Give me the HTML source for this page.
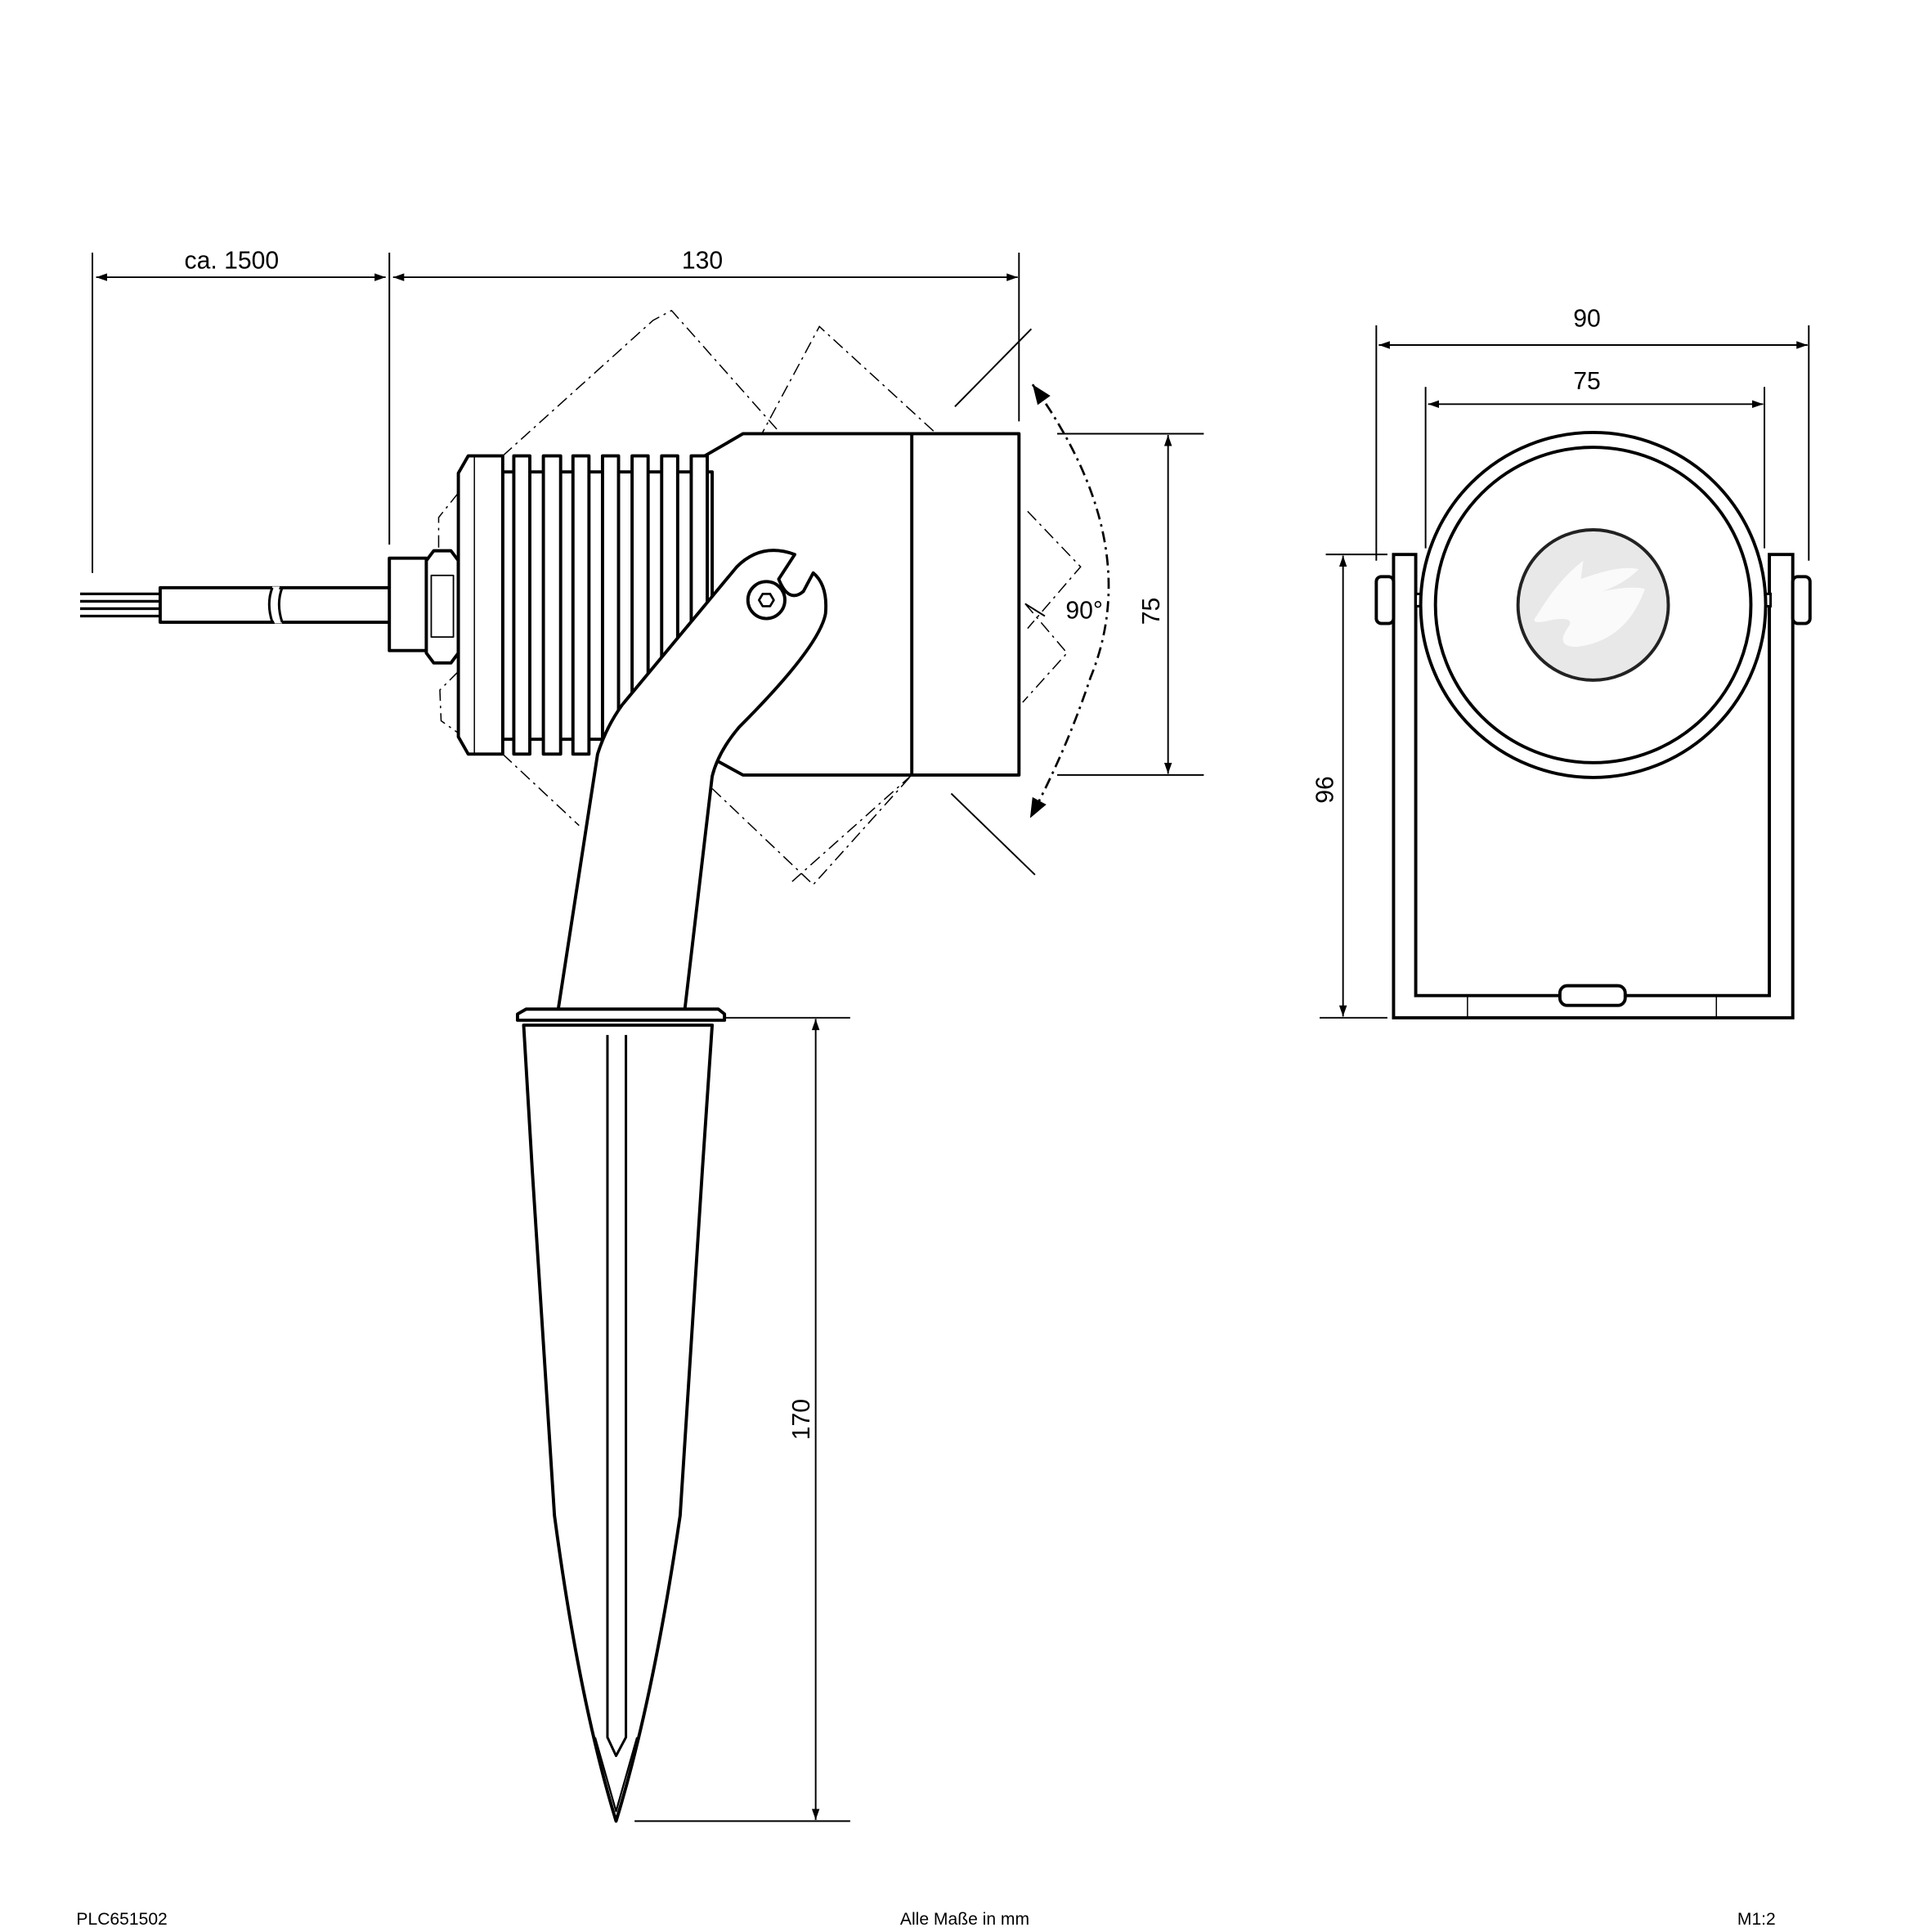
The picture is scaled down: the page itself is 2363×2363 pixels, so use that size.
<!DOCTYPE html>
<html><head><meta charset="utf-8"><style>
html,body{margin:0;padding:0;background:#fff}
svg{display:block}
text{font-family:"Liberation Sans",sans-serif;fill:#000}
</style></head><body>
<svg width="2363" height="2363" viewBox="0 0 1568 1568" xmlns="http://www.w3.org/2000/svg">
<defs>
<marker id="a" viewBox="0 0 10 10" refX="10" refY="5" markerWidth="9" markerHeight="9" orient="auto-start-reverse" markerUnits="userSpaceOnUse"><path d="M0,1.5 L10,5 L0,8.5 z" fill="#000"/></marker>
<marker id="b" viewBox="0 0 10 10" refX="10" refY="5" markerWidth="16" markerHeight="16" orient="auto-start-reverse" markerUnits="userSpaceOnUse"><path d="M0,1 L10,5 L0,9 z" fill="#000"/></marker>
</defs>
<g fill="none" stroke="#000" stroke-width="1.3">
<!-- dimension lines top -->
<line x1="75" y1="205" x2="75" y2="465"/>
<line x1="316" y1="205" x2="316" y2="442"/>
<line x1="827" y1="205" x2="827" y2="342"/>
<line x1="78" y1="225" x2="313" y2="225" marker-start="url(#a)" marker-end="url(#a)"/>
<line x1="319" y1="225" x2="826" y2="225" marker-start="url(#a)" marker-end="url(#a)"/>
<!-- 75 dim -->
<line x1="858" y1="352" x2="977" y2="352"/>
<line x1="858" y1="629" x2="977" y2="629"/>
<line x1="948" y1="353" x2="948" y2="628" marker-start="url(#a)" marker-end="url(#a)"/>
<!-- 170 dim -->
<line x1="588" y1="826" x2="690" y2="826"/>
<line x1="515" y1="1478" x2="690" y2="1478"/>
<line x1="662" y1="827" x2="662" y2="1477" marker-start="url(#a)" marker-end="url(#a)"/>
<!-- ghost dashed outlines -->
<g stroke-dasharray="10,4,2,4" stroke-width="1">
<polyline points="408,370 530,260 545,252 663,385"/>
<polyline points="540,498 665,265 760,352"/>
<polyline points="408,612 470,670"/>
<polyline points="603,629 740,629 660,718 578,640"/>
<polyline points="740,629 640,718"/>
<polyline points="372,400 356,420 356,445 372,460"/>
<polyline points="372,545 357,560 358,585 372,595"/>
<polyline points="834,415 877,460 834,510"/>
<polyline points="832,490 866,530 830,570"/>
</g>
<line x1="775" y1="330" x2="837" y2="267"/>
<line x1="772" y1="644" x2="840" y2="710"/>
<line x1="832" y1="490" x2="848" y2="500"/>
<!-- 90 arc -->
<path d="M838,312 Q930,440 885,550 Q865,610 836,664" stroke-width="1.8" stroke-dasharray="9,4,2,4" marker-start="url(#b)" marker-end="url(#b)"/>
</g>
<g fill="#fff" stroke="#000" stroke-width="2.6" stroke-linejoin="round">
<!-- cable -->
<rect x="130" y="477" width="188" height="28"/>
<path d="M221,476 Q216,490 223,506 L229,506 Q222,490 227,476 z" stroke="none"/>
<path d="M221,477 Q216,490 221,505 M229,477 Q224,490 229,505" fill="none" stroke-width="2"/>
<g stroke-width="2.2"><line x1="65" y1="482" x2="130" y2="482"/><line x1="65" y1="488" x2="130" y2="488"/><line x1="65" y1="494" x2="130" y2="494"/><line x1="65" y1="500" x2="130" y2="500"/></g>
<rect x="316" y="453" width="30" height="75"/>
<polygon points="352,447 366,447 372,455 372,530 366,538 352,538 346,530 346,455"/>
<rect x="350" y="467" width="18" height="50" stroke-width="1.2"/>
<!-- front head -->
<polygon points="572,370 603,352 827,352 827,629 603,629 572,612"/>
<line x1="740" y1="352" x2="740" y2="629"/>
<!-- heatsink core -->
<rect x="408" y="383" width="170" height="217"/>
<!-- fins -->
<rect x="417" y="370" width="13" height="242"/>
<rect x="441" y="370" width="14" height="242"/>
<rect x="465" y="370" width="13" height="242"/>
<rect x="489" y="370" width="13" height="242"/>
<rect x="513" y="370" width="13" height="242"/>
<rect x="537" y="370" width="13" height="242"/>
<rect x="561" y="370" width="13" height="242"/>
<polygon points="380,370 408,370 408,612 380,612 372,598 372,384"/>
<line x1="385" y1="370" x2="385" y2="612" stroke-width="1"/>
<!-- bracket arm -->
<path d="M452,826 L485,612 Q492,590 505,572 L598,460 Q618,440 645,450 L632,470 Q640,490 652,480 L660,465 Q672,475 670,498 Q665,525 600,590 Q583,610 578,630 L555,826 z"/>
<circle cx="622" cy="487" r="15"/>
<polygon points="616,487 619,482 625,482 628,487 625,492 619,492" stroke-width="1.8"/>
<!-- spike -->
<path d="M425,832 L432,950 L450,1230 Q470,1380 500,1478 Q530,1380 552,1230 L570,950 L578,832 z"/>
<path d="M493,840 L493,1410 L500,1425 L508,1410 L508,840" fill="none" stroke-width="2"/>
<path d="M483,1410 L500,1470 L517,1410" fill="none" stroke-width="1.5"/>
<polygon points="420,823 427,819 583,819 588,823 588,828 420,828"/>
</g>
<!-- right view -->
<g fill="none" stroke="#000" stroke-width="1.3">
<line x1="1117" y1="264" x2="1117" y2="455"/>
<line x1="1468" y1="264" x2="1468" y2="455"/>
<line x1="1157" y1="314" x2="1157" y2="445"/>
<line x1="1432" y1="314" x2="1432" y2="445"/>
<line x1="1119" y1="280" x2="1467" y2="280" marker-start="url(#a)" marker-end="url(#a)"/>
<line x1="1159" y1="328" x2="1431" y2="328" marker-start="url(#a)" marker-end="url(#a)"/>
<line x1="1076" y1="450" x2="1126" y2="450"/>
<line x1="1071" y1="826" x2="1126" y2="826"/>
<line x1="1090" y1="451" x2="1090" y2="825" marker-start="url(#a)" marker-end="url(#a)"/>
</g>
<g fill="#fff" stroke="#000" stroke-width="2.6">
<path d="M1131,450 L1149,450 L1149,808 L1436,808 L1436,450 L1455,450 L1455,826 L1131,826 z"/>
<rect x="1117" y="468" width="14" height="38" rx="4"/>
<rect x="1455" y="468" width="14" height="38" rx="4"/>
<rect x="1149" y="482" width="10" height="10" stroke-width="2"/>
<rect x="1427" y="482" width="10" height="10" stroke-width="2"/>
<circle cx="1293" cy="491" r="140"/>
<circle cx="1293" cy="491" r="128"/>
<circle cx="1293" cy="491" r="61" fill="#e8e8e8" stroke="#222"/>
<path d="M1247,500 Q1265,470 1285,455 L1283,470 Q1315,458 1330,462 Q1318,474 1300,480 Q1325,475 1335,478 Q1320,520 1280,525 Q1262,525 1272,510 Q1280,500 1260,503 Q1240,508 1247,500 z" fill="#fafafa" stroke="none"/>
<rect x="1266" y="800" width="53" height="16" rx="6"/>
<line x1="1191" y1="808" x2="1191" y2="826" stroke-width="1"/>
<line x1="1393" y1="808" x2="1393" y2="826" stroke-width="1"/>
</g>
<g font-size="20">
<text x="188" y="218" text-anchor="middle">ca. 1500</text>
<text x="570" y="218" text-anchor="middle">130</text>
<text x="880" y="502" text-anchor="middle">90°</text>
<text x="1288" y="265" text-anchor="middle">90</text>
<text x="1288" y="316" text-anchor="middle">75</text>
<text transform="translate(941,496) rotate(-90)" text-anchor="middle">75</text>
<text transform="translate(657,1152) rotate(-90)" text-anchor="middle">170</text>
<text transform="translate(1082,641) rotate(-90)" text-anchor="middle">96</text>
</g>
<g font-size="14">
<text x="62" y="1562">PLC651502</text>
<text x="783" y="1562" text-anchor="middle">Alle Maße in mm</text>
<text x="1410" y="1562">M1:2</text>
</g>
</svg>
</body></html>
